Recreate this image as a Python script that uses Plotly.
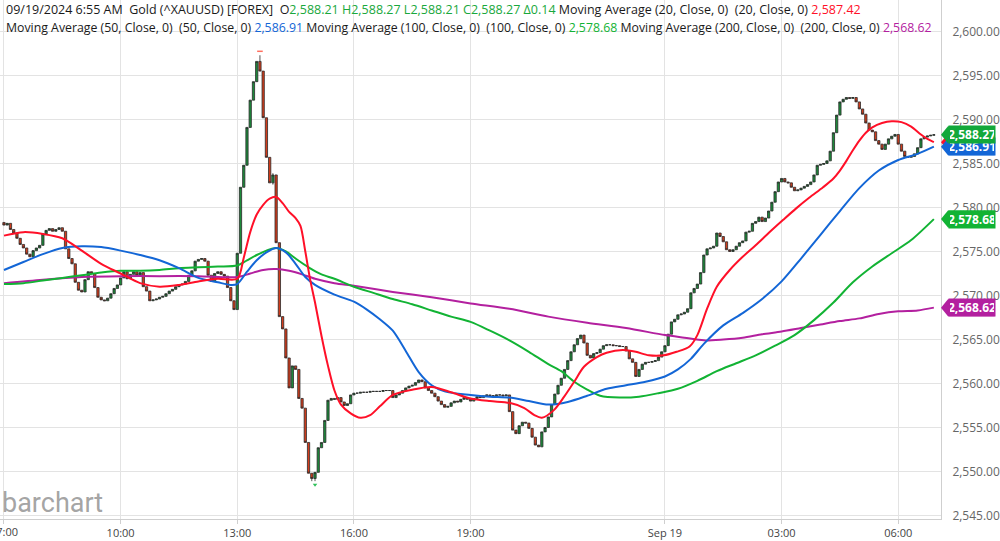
import plotly.graph_objects as go

# ---------------- data (5-minute bars, 07:00 Sep 18 -> 06:55 Sep 19) ----------------
closes = [
    # 07:00
    2578.0, 2578.2, 2577.5, 2577.1, 2576.5, 2575.8, 2575.4, 2574.7, 2574.4, 2575.1, 2575.4, 2575.7,
    # 08:00
    2577.0, 2577.4, 2577.6, 2577.3, 2577.5, 2577.7, 2577.3, 2575.3, 2574.2, 2573.6, 2571.5, 2570.6,
    # 09:00
    2570.4, 2571.8, 2572.7, 2572.5, 2570.9, 2569.8, 2569.5, 2569.4, 2569.7, 2570.2, 2570.8, 2571.2,
    # 10:00
    2572.0, 2572.7, 2571.9, 2572.4, 2572.7, 2572.3, 2572.6, 2571.0, 2570.5, 2569.4, 2569.5, 2569.6,
    # 11:00
    2569.8, 2569.9, 2570.2, 2570.5, 2570.7, 2571.0, 2571.2, 2571.3, 2571.6, 2572.3, 2572.8, 2573.9,
    # 12:00
    2574.1, 2574.2, 2573.9, 2572.3, 2571.6, 2572.5, 2572.7, 2572.4, 2572.2, 2570.9, 2569.4, 2568.4,
    # 13:00
    2574.8, 2582.3, 2584.8, 2589.1, 2592.2, 2594.3, 2596.6, 2595.5, 2590.2, 2585.7, 2582.8, 2583.7,
    # 14:00
    2576.0, 2567.6, 2566.2, 2562.9, 2559.5, 2562.0, 2561.6, 2558.3, 2557.2, 2553.3, 2549.8, 2549.2,
    # 15:00
    2549.9, 2552.7, 2553.3, 2555.8, 2558.1, 2558.3, 2558.2, 2558.4, 2557.9, 2557.5, 2557.7, 2558.7,
    # 16:00
    2558.9, 2558.9, 2559.0, 2559.0, 2559.0, 2559.1, 2559.1, 2559.1, 2559.1, 2559.2, 2559.2, 2559.2,
    # 17:00
    2558.4, 2558.7, 2558.9, 2559.2, 2559.5, 2559.7, 2559.8, 2560.1, 2560.4, 2560.2, 2559.5, 2559.2,
    # 18:00
    2558.9, 2558.5, 2558.0, 2557.6, 2557.3, 2557.4, 2557.8, 2558.0, 2557.9, 2558.2, 2558.4, 2558.2,
    # 19:00
    2558.0, 2558.3, 2558.5, 2558.4, 2558.6, 2558.7, 2558.6, 2558.6, 2558.7, 2558.7, 2558.6, 2558.7,
    # 20:00
    2556.8, 2554.7, 2554.3, 2555.2, 2555.6, 2555.5, 2554.9, 2553.9, 2553.0, 2552.8, 2554.5, 2555.0,
    # 21:00
    2556.2, 2557.6, 2558.8, 2559.8, 2560.6, 2561.6, 2562.6, 2563.6, 2564.4, 2565.1, 2565.5, 2564.6,
    # 22:00
    2563.2, 2562.9, 2563.4, 2563.5, 2563.9, 2564.3, 2564.4, 2564.4, 2564.3, 2564.3, 2564.2, 2564.2,
    # 23:00
    2563.7, 2562.8, 2562.4, 2560.8, 2561.6, 2562.2, 2562.4, 2562.4, 2562.5, 2562.6, 2563.0, 2563.6,
    # 00:00
    2564.3, 2565.6, 2567.0, 2567.3, 2567.8, 2567.9, 2568.1, 2568.5, 2570.3, 2570.8, 2571.3, 2572.6,
    # 01:00
    2574.6, 2575.3, 2575.4, 2575.6, 2577.1, 2576.7, 2576.1, 2575.2, 2575.0, 2575.2, 2575.6, 2576.0,
    # 02:00
    2576.2, 2577.2, 2577.3, 2578.2, 2578.4, 2578.9, 2578.4, 2578.8, 2579.6, 2580.6, 2581.8, 2582.9,
    # 03:00
    2583.3, 2582.9, 2582.8, 2582.3, 2581.9, 2582.0, 2582.2, 2582.4, 2582.6, 2582.9, 2583.7, 2584.8,
    # 04:00
    2584.9, 2585.0, 2585.3, 2586.4, 2588.5, 2590.5, 2592.0, 2592.3, 2592.5, 2592.4, 2592.5, 2592.0,
    # 05:00
    2591.2, 2590.6, 2589.6, 2588.8, 2588.6, 2587.6, 2587.2, 2586.6, 2587.2, 2587.8, 2588.1, 2588.3,
    # 06:00
    2587.2, 2586.4, 2585.8, 2585.7, 2585.8, 2586.1, 2586.8, 2587.8, 2588.0, 2588.13, 2588.21, 2588.27,
]
first_open = 2578.3
# visible wick extremes (bar index -> price)
high_overrides = {79: 2597.3, 83: 2583.9}
low_overrides = {95: 2548.9, 96: 2548.9, 83: 2582.6}

# moving averages (bar index, value)
ma20_idx = [0, 6, 12, 18, 24, 30, 36, 42, 48, 54, 60, 66, 72, 74, 76, 78, 80, 82, 84, 86, 88, 90, 91.5,
            93, 94.5, 96, 98, 100, 102, 104, 107, 110, 113, 116, 120, 126, 132, 138, 144, 150, 156,
            160.6, 163.7, 166, 169.8, 172.9, 176, 179, 183, 186, 191, 195, 199, 203.6, 207.6, 211.6,
            214, 217, 220, 224, 228, 232, 236, 240.5, 244.5, 248.5, 252.8, 256, 258, 260, 262, 264,
            266, 268, 271, 274, 277, 280, 283, 285, 287]
ma20_val = [2576.8, 2577.2, 2577.0, 2576.5, 2575.1, 2573.6, 2572.5, 2571.4, 2571.0, 2571.2, 2571.6,
            2571.9, 2571.9, 2574.3, 2577.2, 2579.2, 2580.3, 2581.0, 2581.2, 2580.5, 2579.5, 2578.8,
            2577.9, 2575.0, 2571.8, 2569.2, 2565.4, 2562.0, 2559.2, 2557.6, 2556.6, 2556.1, 2556.4,
            2557.4, 2558.7, 2559.3, 2559.6, 2559.0, 2558.3, 2558.0, 2557.8, 2557.2, 2556.4, 2556.1,
            2557.0, 2558.5, 2560.2, 2561.9, 2563.0, 2563.5, 2563.8, 2563.6, 2563.2, 2563.2, 2563.6,
            2564.2, 2565.5, 2568.5, 2571.0, 2572.9, 2574.4, 2575.7, 2577.1, 2578.6, 2579.9, 2581.1,
            2582.3, 2583.3, 2584.2, 2585.3, 2586.5, 2587.6, 2588.5, 2589.1, 2589.6, 2589.8, 2589.7,
            2589.2, 2588.3, 2587.8, 2587.42]

ma50_idx = [0, 6, 12, 18, 24, 30, 36, 42, 48, 54, 60, 66, 70, 72, 75, 78, 81, 84, 87, 90, 93, 96, 102,
            108, 112, 116, 120, 124, 128, 132, 136, 144, 150, 156, 162, 168, 174, 180, 186, 192, 198,
            204, 208, 212, 216, 222, 228, 234, 240, 246, 252, 258, 264, 270, 276, 282, 287]
ma50_val = [2572.9, 2573.8, 2574.7, 2575.4, 2575.6, 2575.5, 2575.1, 2574.6, 2574.0, 2573.1, 2572.0,
            2571.5, 2571.2, 2571.3, 2572.7, 2574.0, 2574.9, 2575.4, 2574.9, 2573.6, 2572.1, 2571.2,
            2570.1, 2569.3, 2568.4, 2567.3, 2566.0, 2563.7, 2561.3, 2559.8, 2559.1, 2558.7, 2558.5,
            2558.4, 2558.0, 2557.6, 2557.9, 2558.6, 2559.4, 2559.8, 2560.2, 2560.8, 2561.6, 2562.8,
            2564.5, 2566.6, 2568.0, 2569.6, 2571.6, 2574.2, 2576.9, 2579.6, 2582.2, 2584.2, 2585.4,
            2586.1, 2586.91]

ma100_idx = [0, 6, 12, 18, 24, 30, 36, 42, 48, 54, 60, 66, 72, 75, 78, 81, 84, 87, 90, 94, 98, 102,
             108, 114, 120, 126, 132, 138, 144, 150, 156, 162, 168, 172, 176, 180, 184, 190, 196, 202,
             208, 214, 220, 226, 232, 238, 244, 250, 256, 262, 268, 274, 280, 287]
ma100_val = [2571.3, 2571.4, 2571.7, 2572.0, 2572.3, 2572.6, 2572.8, 2572.8, 2572.9, 2573.1, 2573.2,
             2573.3, 2573.4, 2574.0, 2574.6, 2575.1, 2575.4, 2575.0, 2574.2, 2573.2, 2572.4, 2571.9,
             2571.0, 2570.3, 2569.6, 2569.0, 2568.3, 2567.6, 2567.0, 2566.0, 2564.9, 2563.6, 2562.2,
             2561.4, 2560.2, 2559.3, 2558.6, 2558.4, 2558.5, 2558.9, 2559.4, 2560.3, 2561.4, 2562.3,
             2563.2, 2564.3, 2565.5, 2567.2, 2569.2, 2571.5, 2573.3, 2574.8, 2576.3, 2578.68]

ma200_idx = [0, 12, 24, 36, 48, 60, 72, 76, 80, 84, 88, 92, 96, 102, 108, 120, 132, 144, 156, 168, 180,
             192, 204, 210, 216, 222, 228, 234, 240, 246, 252, 258, 264, 270, 276, 282, 287]
ma200_val = [2571.4, 2571.8, 2572.1, 2572.2, 2572.2, 2572.2, 2572.1, 2572.5, 2572.9, 2573.0, 2572.8,
             2572.4, 2571.9, 2571.4, 2571.1, 2570.4, 2569.8, 2569.1, 2568.5, 2567.6, 2566.9, 2566.3,
             2565.5, 2565.2, 2564.9, 2565.0, 2565.2, 2565.6, 2565.9, 2566.3, 2566.7, 2567.1, 2567.4,
             2567.9, 2568.2, 2568.3, 2568.62]

tick_idx = [0, 36, 72, 108, 144, 204, 240, 276]
tick_text = ["07:00", "10:00", "13:00", "16:00", "19:00", "Sep 19", "03:00", "06:00"]
y_ticks = [2545, 2550, 2555, 2560, 2565, 2570, 2575, 2580, 2585, 2590, 2595, 2600]

last_close = 2588.27
last_ma = {"ma20": 2587.42, "ma50": 2586.91, "ma100": 2578.68, "ma200": 2568.62}

# ---------------- derived OHLC ----------------
n = len(closes)
x_idx = list(range(n))
opens = [first_open] + closes[:-1]
highs = [max(o, c) for o, c in zip(opens, closes)]
lows = [min(o, c) for o, c in zip(opens, closes)]
for k, v in high_overrides.items():
    highs[k] = v
for k, v in low_overrides.items():
    lows[k] = v

C_RED = "#ff1028"
C_BLUE = "#1366d6"
C_GREEN = "#12b334"
C_MAG = "#b3209f"

fig = go.Figure()
for xs, ys, col in [(ma200_idx, ma200_val, C_MAG), (ma100_idx, ma100_val, C_GREEN),
                    (ma50_idx, ma50_val, C_BLUE), (ma20_idx, ma20_val, C_RED)]:
    fig.add_trace(go.Scatter(x=xs, y=ys, mode="lines", line=dict(color=col, width=2, shape="spline", smoothing=0.8),
                             hoverinfo="skip", showlegend=False))

fig.add_trace(go.Candlestick(
    x=x_idx, open=opens, high=highs, low=lows, close=closes,
    increasing=dict(fillcolor="#1c8a3a", line=dict(color="#2a2a2a", width=0.8)),
    decreasing=dict(fillcolor="#d23c1c", line=dict(color="#2a2a2a", width=0.8)),
    whiskerwidth=0, showlegend=False,
))

# high / low markers
fig.add_trace(go.Scatter(x=[79], y=[max(highs) + 0.45], mode="markers",
                         marker=dict(symbol="line-ew", size=4, line=dict(color="#ff7060", width=1.5)),
                         showlegend=False, hoverinfo="skip"))
fig.add_trace(go.Scatter(x=[96], y=[min(lows) - 0.4], mode="markers",
                         marker=dict(symbol="triangle-down", size=4, color="#2fc05a"),
                         showlegend=False, hoverinfo="skip"))

# ---------------- layout ----------------
PLOT_W = 946.0
PLOT_H = 519.0
fig.update_layout(
    width=1000, height=541,
    margin=dict(l=0, r=1000 - PLOT_W, t=0, b=541 - PLOT_H),
    paper_bgcolor="white", plot_bgcolor="white",
    showlegend=False, boxgap=0.3, boxgroupgap=0.0,
    font=dict(family="Open Sans, Noto Sans, sans-serif", size=12, color="#222"),
    xaxis=dict(range=[-1.23, 289.2], tickvals=tick_idx, ticktext=tick_text,
               showgrid=True, gridcolor="#e3e3e3", gridwidth=1,
               showline=True, linecolor="#cfcfcf", ticks="outside", ticklen=4, tickcolor="#cfcfcf",
               tickfont=dict(size=11, color="#444"), rangeslider=dict(visible=False), zeroline=False,
               fixedrange=True),
    yaxis=dict(range=[2544.6, 2603.58], side="right", tickvals=y_ticks,
               ticktext=[f"{v:,.2f}" for v in y_ticks],
               showgrid=True, gridcolor="#e3e3e3", gridwidth=1,
               showline=True, linecolor="#cfcfcf", ticks="", ticklabelstandoff=8,
               tickfont=dict(size=12, color="#666"), zeroline=False, fixedrange=True),
)

# partially visible first time label at the left edge
fig.add_annotation(text="07:00", xref="paper", yref="paper", x=4 / PLOT_W, y=1 - 531 / PLOT_H,
                   xanchor="center", yanchor="middle", showarrow=False,
                   font=dict(size=11, color="#444"))

# header lines
GRN = "#19a83c"
line1 = ("09/19/2024 6:55 AM  Gold (^XAUUSD) [FOREX]  O"
         f"<span style='color:{GRN}'>2,588.21 H2,588.27 L2,588.21 C2,588.27 Δ0.14</span>"
         " Moving Average (20, Close, 0)  (20, Close, 0) "
         f"<span style='color:{C_RED}'>2,587.42</span>")
line2 = ("Moving Average (50, Close, 0)  (50, Close, 0) "
         f"<span style='color:{C_BLUE}'>2,586.91</span>"
         " Moving Average (100, Close, 0)  (100, Close, 0) "
         f"<span style='color:{C_GREEN}'>2,578.68</span>"
         " Moving Average (200, Close, 0)  (200, Close, 0) "
         f"<span style='color:{C_MAG}'>2,568.62</span>")
for txt, py, fs in [(line1, 10, 12.5), (line2, 27, 12.3)]:
    fig.add_annotation(text=txt, xref="paper", yref="paper", x=4 / PLOT_W, y=1 - py / PLOT_H,
                       xanchor="left", yanchor="middle", showarrow=False,
                       font=dict(size=fs, color="#1a1a1a", family="Open Sans, Noto Sans, sans-serif"))

# watermark
fig.add_annotation(text="barchart", xref="paper", yref="paper", x=0, y=1 - 503 / PLOT_H,
                   xanchor="left", yanchor="middle", showarrow=False,
                   font=dict(size=27, color="rgba(140,140,140,0.8)", family="Roboto, sans-serif"))

# price tags on the right (MA20 tag sits hidden under the others)
half = 8.5 / (PLOT_H / (2603.58 - 2544.6))
tip = 1.0
body_l = 953 / PLOT_W
body_r = 1000 / PLOT_W
tags = [(last_ma["ma20"], C_RED, False), (last_ma["ma200"], C_MAG, True), (last_ma["ma100"], C_GREEN, True),
        (last_ma["ma50"], C_BLUE, True), (last_close, "#12a83a", True)]
for val, col, show_text in tags:
    fig.add_shape(type="path", xref="paper", yref="y",
                  path=f"M {tip},{val} L {body_l},{val + half} L {body_r},{val + half} L {body_r},{val - half} L {body_l},{val - half} Z",
                  fillcolor=col, line=dict(width=0), layer="above")
    if show_text:
        fig.add_annotation(text=f"<b>{val:,.2f}</b>", xref="paper", yref="y", x=body_l, y=val,
                           xanchor="left", yanchor="middle", showarrow=False, bgcolor=col,
                           width=44, height=15, borderpad=1,
                           font=dict(size=12, color="white", family="Open Sans, Noto Sans, sans-serif"))

fig.write_html("out.html", config={"displayModeBar": False})
